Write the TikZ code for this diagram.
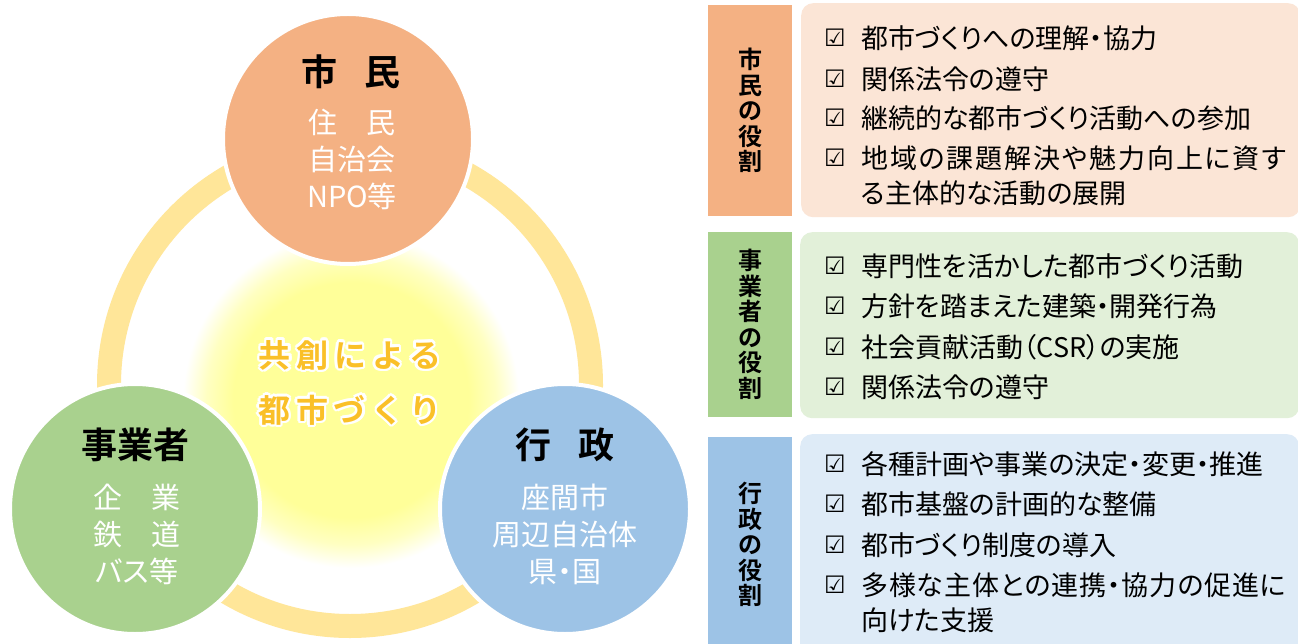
\documentclass[tikz,border=0pt]{standalone}
\usepackage{fontspec}
\usetikzlibrary{calc}
\setmainfont{Noto Sans CJK JP}[BoldFont=* Bold, RawFeature=+palt]
\newfontfamily\symfont{DejaVu Sans}
\newfontfamily\glowfont{Noto Sans CJK JP Bold}[LetterSpace=18]
\definecolor{orangeC}{HTML}{F4B183}
\definecolor{greenC}{HTML}{A9D18E}
\definecolor{blueC}{HTML}{9DC3E6}
\definecolor{orangeL}{HTML}{FBE5D6}
\definecolor{greenL}{HTML}{E2F0D9}
\definecolor{blueL}{HTML}{DEEBF7}
\definecolor{ringC}{HTML}{FFE699}
\definecolor{glowC}{HTML}{FFFF99}
\definecolor{textY}{RGB}{250,192,40}
\pgfdeclareradialshading{glowshade}{\pgfpoint{0bp}{0bp}}{color(0bp)=(glowC); color(17.5bp)=(glowC); color(21.5bp)=(glowC!60!white); color(25bp)=(white); color(50bp)=(white)}
\newcommand{\spreadto}[2]{\makebox[#1][s]{#2}}
\tikzset{
  actor/.style={circle, draw=white, line width=4pt, minimum size=250pt, inner sep=0pt},
  title/.style={font=\fontsize{36}{40}\selectfont\bfseries, text=black, inner sep=0pt},
  sub/.style={font=\fontsize{29}{37}\selectfont, text=white, align=center, inner sep=0pt},
  labbox/.style={rectangle, minimum width=84pt, inner sep=0pt, align=center,
     font=\fontsize{24}{25.5}\selectfont\bfseries, text=black},
  rolebox/.style={rectangle, rounded corners=12pt, inner sep=0pt, anchor=north west},
  chk/.style={font=\symfont\fontsize{24}{24}\selectfont, inner sep=0pt, anchor=west},
  item/.style={font=\fontsize{27}{27}\selectfont, inner sep=0pt, anchor=west, text=black},
  halo/.style={font=\glowfont\fontsize{32}{32}\selectfont, inner sep=0pt, text=white},
  center text/.style={font=\glowfont\fontsize{32}{32}\selectfont, inner sep=0pt, text=textY}
}
\begin{document}
\begin{tikzpicture}[x=1pt,y=-1pt]
\useasboundingbox (0,0) rectangle (1298,644);
\fill[white] (0,0) rectangle (1298,644);
% ring
\coordinate (ringc) at (350,385);
\draw[ringC, line width=24pt] (ringc) circle (241pt);
% glow
\coordinate (glowc) at (351,400);
\shade[shading=glowshade] (glowc) circle (168pt);
% central text with halo
\coordinate (ctp1) at (350,355);
\coordinate (ctp2) at (350,410);
\foreach \a in {0,30,...,330}{
  \node[halo] at ($(ctp1)+(\a:2.5pt)$) {共創による};
  \node[halo] at ($(ctp2)+(\a:2.5pt)$) {都市づくり};
}
\node[center text] (ct1) at (ctp1) {共創による};
\node[center text] (ct2) at (ctp2) {都市づくり};
% actor circles
\node[actor, fill=orangeC] (shimin) at (348,139) {};
\node[actor, fill=greenC] (jigyo) at (135,509) {};
\node[actor, fill=blueC] (gyosei) at (565,509) {};
\node[title] (t1) at (351,72) {市\hspace{0.75em}民};
\node[sub] (s1) at (352,159) {住\hspace{1em}民\\自治会\\NPO等};
\node[title] (t2) at (135,445) {事業者};
\node[sub] (s2) at (137,534) {企\hspace{1em}業\\鉄\hspace{1em}道\\バス等};
\node[title] (t3) at (565,445) {行\hspace{0.75em}政};
\node[sub] (s3) at (565,534) {座間市\\周辺自治体\\県・国};
% role panels
\node[rolebox, fill=orangeL, minimum width=499pt, minimum height=214pt] (box1) at (801,3) {};
\node[rolebox, fill=greenL, minimum width=499pt, minimum height=186pt] (box2) at (800,232) {};
\node[rolebox, fill=blueL, minimum width=499pt, minimum height=225pt] (box3) at (800,434) {};
\node[labbox, fill=orangeC, minimum height=211pt] (lab1) at (750,110.5) {市\\民\\の\\役\\割};
\node[labbox, fill=greenC, minimum height=185pt] (lab2) at (750,324.5) {事\\業\\者\\の\\役\\割};
\node[labbox, fill=blueC, minimum height=215pt] (lab3) at (750,544.5) {行\\政\\の\\役\\割};
% items panel 1
\node[chk] (c11) at (824,38) {☑};
\node[item] (i11) at (861,38) {都市づくりへの理解・協力};
\node[chk] (c12) at (824,79) {☑};
\node[item] (i12) at (861,79) {関係法令の遵守};
\node[chk] (c13) at (824,118) {☑};
\node[item] (i13) at (861,118) {継続的な都市づくり活動への参加};
\node[chk] (c14) at (824,158) {☑};
\node[item] (i14) at (861,158) {\spreadto{425pt}{地\hfil 域\hfil の\hfil 課\hfil 題\hfil 解\hfil 決\hfil や\hfil 魅\hfil 力\hfil 向\hfil 上\hfil に\hfil 資\hfil す}};
\node[item] (i15) at (861,193) {る主体的な活動の展開};
% items panel 2
\node[chk] (c21) at (824,266) {☑};
\node[item] (i21) at (861,266) {専門性を活かした都市づくり活動};
\node[chk] (c22) at (824,306) {☑};
\node[item] (i22) at (861,306) {方針を踏まえた建築・開発行為};
\node[chk] (c23) at (824,347) {☑};
\node[item] (i23) at (861,347) {社会貢献活動（CSR）の実施};
\node[chk] (c24) at (824,387) {☑};
\node[item] (i24) at (861,387) {関係法令の遵守};
% items panel 3
\node[chk] (c31) at (824,464) {☑};
\node[item] (i31) at (861,464) {各種計画や事業の決定・変更・推進};
\node[chk] (c32) at (824,504) {☑};
\node[item] (i32) at (861,504) {都市基盤の計画的な整備};
\node[chk] (c33) at (824,545) {☑};
\node[item] (i33) at (861,545) {都市づくり制度の導入};
\node[chk] (c34) at (824,585) {☑};
\node[item] (i34) at (861,585) {\spreadto{425pt}{多\hfil 様\hfil な\hfil 主\hfil 体\hfil と\hfil の\hfil 連\hfil 携\hfil ・\hfil 協\hfil 力\hfil の\hfil 促\hfil 進\hfil に}};
\node[item] (i35) at (861,620) {向けた支援};
\end{tikzpicture}
\end{document}
